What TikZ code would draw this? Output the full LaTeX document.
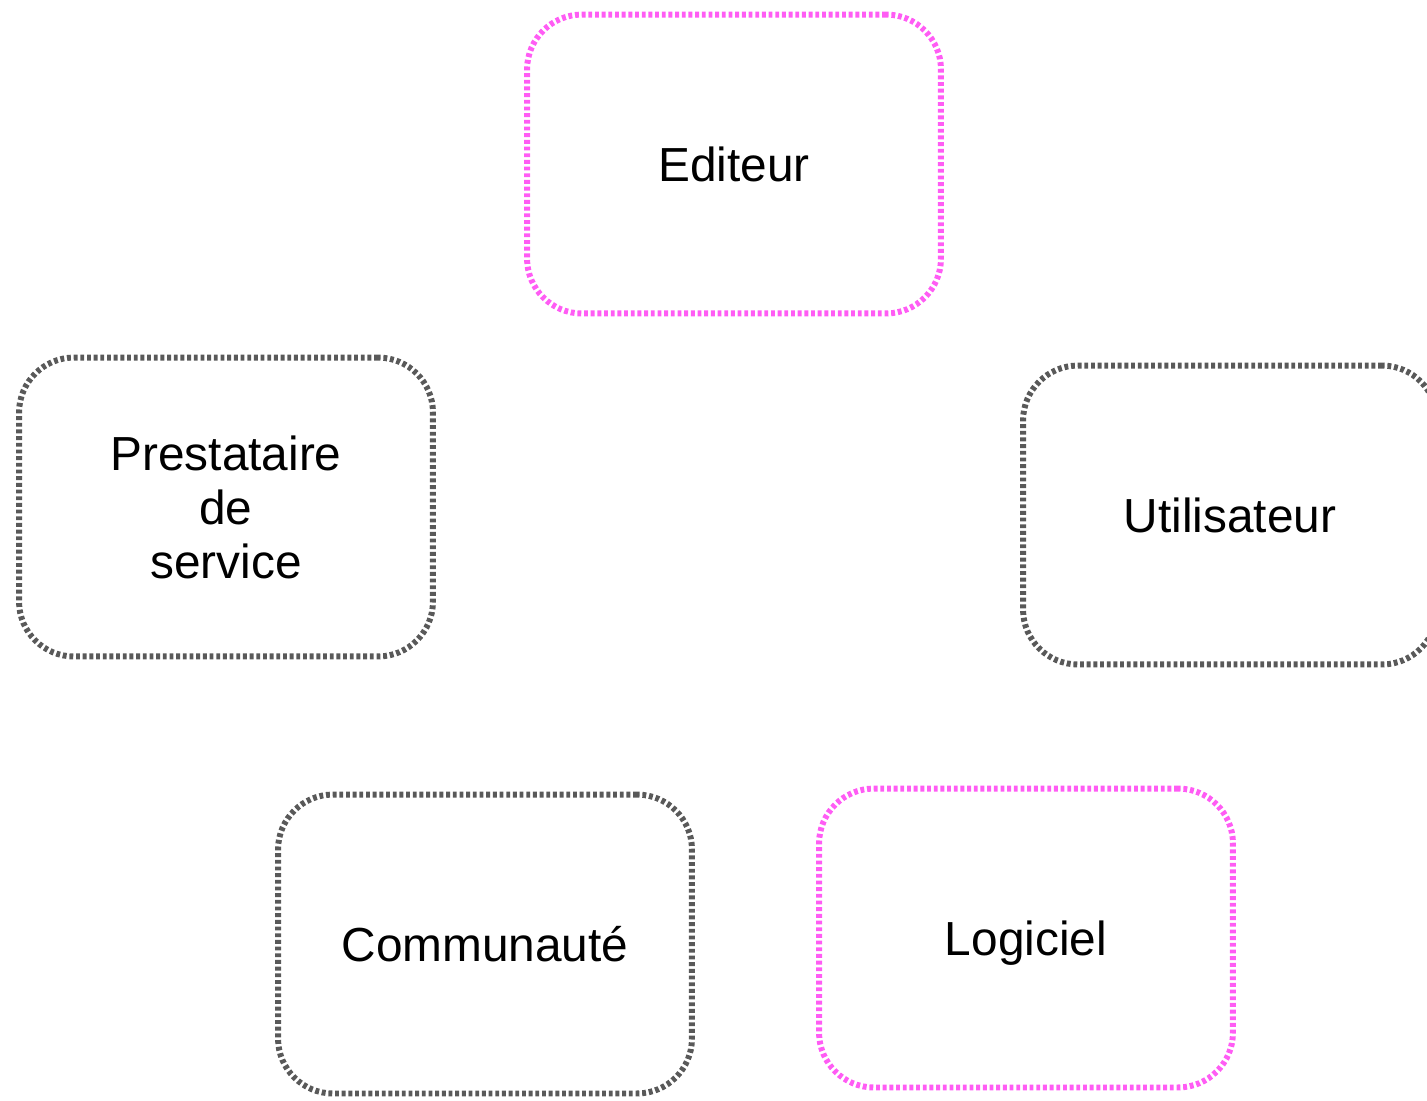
\documentclass[tikz,border=0pt]{standalone}
\usepackage{fontspec}
\setmainfont{Liberation Sans}
\definecolor{rosebord}{HTML}{FF5CF4}
\definecolor{grisbord}{HTML}{595959}
\tikzset{
  acteur/.style={draw, rounded corners=1.1cm, line width=3.4pt,
    dash pattern=on 2.2pt off 1.6pt, minimum width=8.28cm, minimum height=5.98cm,
    align=center, font=\fontsize{27.2}{30.8}\selectfont, inner sep=0pt, text depth=0pt},
  rose/.style={acteur, draw=rosebord},
  gris/.style={acteur, draw=grisbord}
}
\begin{document}
\begin{tikzpicture}[x=0.02cm,y=-0.02cm]
			\useasboundingbox (0,0) rectangle (1427,1100);
			\node[rose] (editeur) at (734,164) {Editeur};
			\node[gris] (prestataire) at (226,507) {Prestataire\\de\\service};
			\node[gris] (utilisateur) at (1230,515) {Utilisateur};
			\node[gris] (communaute) at (485,944) {Communauté};
			\node[rose] (logiciel) at (1026,938) {Logiciel};
		\end{tikzpicture}
\end{document}
